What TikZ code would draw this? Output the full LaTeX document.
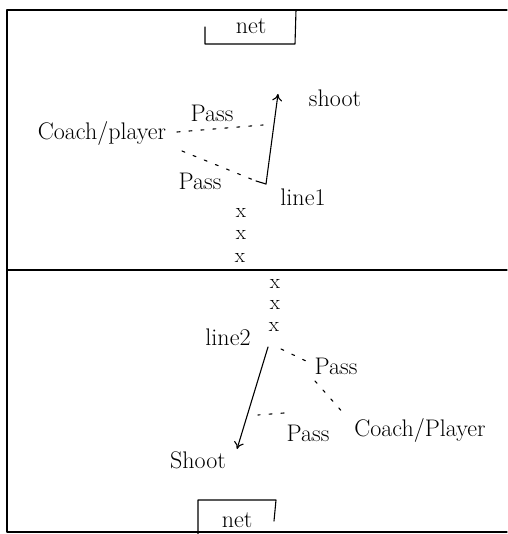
\documentclass[tikz,border=0pt]{standalone}
\usetikzlibrary{arrows.meta}
\begin{document}
\begin{tikzpicture}[x=1pt,y=-1pt,
  pen/.style={line width=1.1pt, line cap=round, line join=round},
  lbl/.style={font=\fontsize{24}{26}\selectfont, inner sep=0pt},
  xm/.style={font=\fontsize{21}{22}\selectfont, inner sep=0pt},
  passline/.style={pen, dash pattern=on 3pt off 9pt},
  shootarrow/.style={pen, -{To[length=7pt,width=10pt]}}]
\useasboundingbox (0,0) rectangle (507,534);
% field border and midline
\draw[pen] (507,10) -- (7,10) -- (7,532) -- (507,532);
\draw[pen] (7,270) -- (507,270);
% top net
\draw[pen] (205,27) -- (205,44) -- (295,44) -- (296,10);
\node[lbl] (net1) at (251,26) {net};
% bottom net
\draw[pen] (198,534) -- (198,500) -- (276,500) -- (274,521);
\node[lbl] (net2) at (237,520) {net};
% top half
\node[lbl] (coach1) at (102,134) {Coach/player};
\node[lbl] (pass1) at (212,113) {Pass};
\node[lbl] (pass2) at (200,181) {Pass};
\node[lbl] (shoot1) at (335,98) {shoot};
\node[lbl] (line1) at (303,197) {line1};
\node[xm] (x1) at (241,213) {x};
\node[xm] (x2) at (241,235) {x};
\node[xm] (x3) at (240,258) {x};
\coordinate (a1base) at (266,184);
\coordinate (a1tip) at (278,94);
\coordinate (r1) at (263,125);
\coordinate (r2) at (256,181);
\coordinate (c1a) at (177,132);
\coordinate (c1b) at (182,151);
\draw[shootarrow] (a1base) -- (a1tip);
\draw[passline] (c1a) -- (r1);
\draw[passline] (c1b) -- (r2);
\draw[pen] (r2) -- (a1base);
% bottom half
\node[xm] (x4) at (275,284) {x};
\node[xm] (x5) at (275,305) {x};
\node[xm] (x6) at (274,327) {x};
\node[lbl] (line2) at (228,337) {line2};
\node[lbl] (pass3) at (336,366) {Pass};
\node[lbl] (pass4) at (308,433) {Pass};
\node[lbl] (coach2) at (420,430) {Coach/Player};
\node[lbl] (shoot2) at (198,460) {Shoot};
\coordinate (a2base) at (268,347);
\coordinate (a2tip) at (237,449);
\coordinate (p3a) at (281,349);
\coordinate (p3b) at (306,361);
\coordinate (p3c) at (315,381);
\coordinate (p3d) at (345,415);
\coordinate (p4a) at (284,413);
\coordinate (p4b) at (258,415);
\draw[shootarrow] (a2base) -- (a2tip);
\draw[passline] (p3a) -- (p3b);
\draw[passline] (p3c) -- (p3d);
\draw[passline] (p4a) -- (p4b);
\end{tikzpicture}
\end{document}
